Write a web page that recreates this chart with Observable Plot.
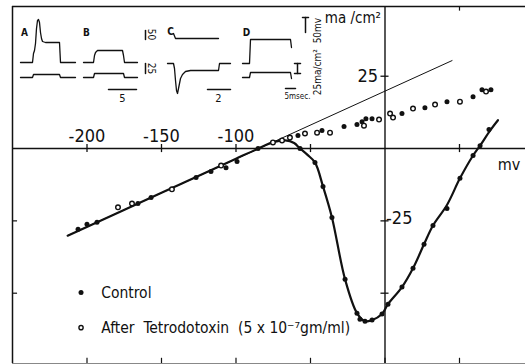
<!DOCTYPE html>
<html><head><meta charset="utf-8">
<script src="https://cdn.jsdelivr.net/npm/d3@7"></script>
<script src="https://cdn.jsdelivr.net/npm/@observablehq/plot@0.6"></script>
<style>
html,body{margin:0;padding:0;background:#fff;}
#wrap{position:relative;width:525px;height:364px;overflow:hidden;background:#fff;}
#wrap svg{position:absolute;left:0;top:0;background:transparent;}
</style></head><body><div id="wrap"></div>
<script>
// ---- data (mV, ma/cm^2) ----
const ctrlPeakV = [-206, -200, -193.3, -165.8, -157, -126.8, -116.8, -106.7, -99.3, -85.2, -57, -47, -41.6, -35.6, -26.8, -18.8, -16.8, -13.4, -8.7, -2, 2, 11.4, 18.8, 26.2, 32.2, 41.6, 50.3, 59.1, 63.8, 69.8];
const ctrlPeakI = [-27.9, -26.2, -25.5, -19, -16.9, -10, -7.9, -6.6, -4.5, 0, 0, -4.8, -13.1, -23.8, -45.2, -56.9, -59, -59.7, -59.3, -57.2, -53.8, -47.9, -41.4, -33.1, -26.6, -20.7, -10.3, -2.4, 1, 6.6];
const ctrlLateV = [-58.4, -42.3, -27.5, -18.8, -15.4, -12.8, -8.7, 11.4, 26.8, 41.6, 59.1, 65.1, 71.1];
const ctrlLateI = [4.5, 6.2, 7.6, 8.3, 9.3, 10.3, 10.3, 12.1, 14.1, 16.2, 17.9, 20.3, 20.3];
const ttxV = [-179.2, -169.8, -143, -110, -75.2, -69.1, -63.8, -53.7, -45.6, -36.9, -14.1, -4.0, 3.4, 5.4, 18.8, 33.6, 50.3, 67.8];
const ttxI = [-20.3, -19.0, -14.1, -5.9, 2.1, 2.8, 3.8, 5.2, 5.5, 5.5, 7.9, 10.0, 12.1, 10.7, 13.8, 15.2, 16.2, 19.7];
// fitted curve drawn through the control points
const curveV = [-213, -150, -100, -85, -75, -67, -61, -57, -52, -47, -41.6, -35.6, -26.8, -18.8, -13.4, -8.7, -2, 2, 11.4, 18.8, 26.2, 32.2, 41.6, 50.3, 59.1, 63.8, 70.5, 75.8];
const curveI = [-30.1, -15.3, -3.5, 0, 2.2, 2.8, 1.9, 0, -2.2, -4.8, -13.1, -23.8, -45.2, -56.9, -59.7, -59.3, -57.2, -53.8, -47.9, -41.4, -33.1, -26.6, -19.5, -10.3, -2.4, 1.0, 6.2, 9.8];
// leakage line extrapolation
const leakV = [-213, 45];
const leakI = [-30.1, 30.4];
// axis ticks
const xTickLabels = [-200, -150, -100];
const xTicks = [-200, -150, -100, -50, 50];
const yTicks = [25, -25, -50];
const yTickLabels = ["25", "-25"];

// ---- inset oscilloscope traces (inset units) ----
const traceAup = [[20,62],[32,62],[33,53],[34,50],[35,43],[36,28],[37,20],[38,19],[39,22],[40,32],[41,38],[42,41],[45,42],[59,42],[60,62],[75,62]];
const traceAlo = [[20,77],[32,77],[33,74],[59,74],[60,77],[75,77]];
const traceBup = [[83,62],[93,62],[94,55],[95,52],[97,50],[122,50],[123,55],[124,62],[137,62]];
const traceBlo = [[83,77],[93,77],[94,73],[123,73],[124,77],[137,77]];
const traceCup = [[173,33],[175,38],[218,38]];
const traceClo = [[167,63],[173,63],[174,68],[175,80],[176,90],[177,93],[178,88],[180,78],[182,74],[185,71],[190,70],[218,70],[219,63],[230,63]];
const traceDup = [[242,63],[249,63],[250,39],[290,39],[291,47]];
const traceDlo = [[242,77],[249,77],[250,72],[290,72],[291,78]];
const bars = [[[108,89],[136,89]], [[207,89],[230,89]], [[285,88],[295,88]], [[145,30],[145,39]], [[145,63],[145,73]], [[297,63],[297,73]], [[294,63],[300,63]], [[294,73],[300,73]], [[305,17],[305,32]], [[302,17],[308,17]]];
const insetLetters = [["A",24,32],["B",86,32],["C",170,31],["D",246,32]];
const insetNums = [["5",122,98],["2",218,98]];

const FONT = "'DejaVu Sans Condensed', 'DejaVu Sans', sans-serif";
const INK = "#111";

const P = (V, I) => V.map((v, i) => ({v, i: I[i]}));
const curve = P(curveV, curveI);
const leak = P(leakV, leakI);
const peak = P(ctrlPeakV, ctrlPeakI);
const late = P(ctrlLateV, ctrlLateI);
const ttx = P(ttxV, ttxI);

const XMIN = -250, XMAX = 94.3, YMIN = -74.3, YMAX = 49.1;

const main = Plot.plot({
  width: 525, height: 364,
  marginLeft: 12, marginRight: 0, marginTop: 6, marginBottom: 1,
  style: {fontFamily: FONT, fontStretch: "condensed", background: "transparent", color: INK},
  x: {domain: [XMIN, XMAX], axis: null},
  y: {domain: [YMIN, YMAX], axis: null},
  marks: [
    // frame
    Plot.ruleY([YMAX], {stroke: INK, strokeWidth: 1.5}),
    Plot.ruleX([XMIN], {stroke: INK, strokeWidth: 1.5}),
    Plot.ruleY([YMIN], {stroke: "#888", strokeWidth: 1}),
    // axes
    Plot.ruleY([0], {stroke: INK, strokeWidth: 1.6}),
    Plot.ruleX([0], {stroke: INK, strokeWidth: 1.4}),
    Plot.ruleX(xTicks, {x: d => d, y1: -1.4, y2: 1.4, stroke: INK, strokeWidth: 1.3}),
    Plot.ruleY(yTicks, {y: d => d, x1: -2.7, x2: 2.7, stroke: INK, strokeWidth: 1.3}),
    Plot.ruleX(xTicks.concat([0]), {x: d => d, y1: YMIN, y2: YMIN + 1.8, stroke: INK, strokeWidth: 1.2}),
    Plot.ruleY([-25, -50], {y: d => d, x1: XMIN, x2: XMIN + 3.4, stroke: INK, strokeWidth: 1.2}),
    Plot.ruleX([50], {x: d => d, y1: YMAX, y2: YMAX - 1.6, stroke: INK, strokeWidth: 1.2}),
    // tick labels
    Plot.text(xTickLabels, {x: d => d, y: 0, text: d => String(d), dy: -12.5, fontSize: 18, textAnchor: "middle", fill: INK}),
    Plot.text([yTickLabels[0]], {x: 0, y: 25, text: d => d, dx: -7, fontSize: 18, textAnchor: "end", fill: INK}),
    Plot.text([yTickLabels[1]], {x: 0, y: -25, text: d => d, dx: 1, dy: -3, fontSize: 18, textAnchor: "start", fill: INK}),
    Plot.text(["ma /cm\u00b2"], {x: 0, y: 45.2, text: d => d, dx: -4, fontSize: 15, textAnchor: "end", fill: INK}),
    Plot.text(["mv"], {x: 83.2, y: -5.7, text: d => d, fontSize: 16, textAnchor: "middle", fill: INK}),
    // lines
    Plot.line(leak, {x: "v", y: "i", stroke: INK, strokeWidth: 1}),
    Plot.line(curve, {x: "v", y: "i", stroke: INK, strokeWidth: 2.2, curve: "catmull-rom"}),
    // points
    Plot.dot(peak, {x: "v", y: "i", r: 2.5, fill: INK, stroke: "none"}),
    Plot.dot(late, {x: "v", y: "i", r: 2.5, fill: INK, stroke: "none"}),
    Plot.dot(ttx, {x: "v", y: "i", r: 2.3, fill: "white", stroke: INK, strokeWidth: 1.4}),
    // legend
    Plot.dot([{v: -204, i: -49.8}], {x: "v", y: "i", r: 2.5, fill: INK, stroke: "none"}),
    Plot.dot([{v: -204, i: -61.9}], {x: "v", y: "i", r: 2.1, fill: "white", stroke: INK, strokeWidth: 1.4}),
    Plot.text(["Control"], {x: -190.5, y: -49.8, text: d => d, fontSize: 15.5, textAnchor: "start", fill: INK}),
    Plot.text(["After\u00a0\u00a0Tetrodotoxin\u00a0\u00a0(5\u00a0x\u00a010\u207b\u2077gm/ml)"], {x: -190.5, y: -61.9, text: d => d, fontSize: 15.5, textAnchor: "start", fill: INK})
  ]
});

const seg = (arr, k) => arr.map(([x, y]) => ({x, y, k}));
const traces = [
  ...seg(traceAup, "Aup"), ...seg(traceAlo, "Alo"), ...seg(traceBup, "Bup"), ...seg(traceBlo, "Blo"),
  ...seg(traceCup, "Cup"), ...seg(traceClo, "Clo"), ...seg(traceDup, "Dup"), ...seg(traceDlo, "Dlo")
];
const barPts = bars.flatMap((b, j) => seg(b, "bar" + j));

const inset = Plot.plot({
  width: 330, height: 105,
  margin: 0,
  style: {fontFamily: FONT, fontStretch: "condensed", background: "transparent", color: INK},
  x: {domain: [0, 330], range: [0, 330], axis: null},
  y: {domain: [0, 105], range: [0, 105], axis: null},
  marks: [
    Plot.line(traces, {x: "x", y: "y", z: "k", stroke: INK, strokeWidth: 1.3}),
    Plot.line(barPts, {x: "x", y: "y", z: "k", stroke: INK, strokeWidth: 1.5}),
    Plot.text(insetLetters, {x: d => d[1], y: d => d[2], text: d => d[0], fontSize: 10, fontWeight: "bold", fill: INK}),
    Plot.text(insetNums, {x: d => d[1], y: d => d[2], text: d => d[0], fontSize: 11, fill: INK}),
    Plot.text(["50"], {x: 151, y: 34, text: d => d, fontSize: 10, rotate: 90, fill: INK}),
    Plot.text(["25"], {x: 151, y: 68, text: d => d, fontSize: 10, rotate: 90, fill: INK}),
    Plot.text(["25ma/cm\u00b2\u00a0\u00a050mv"], {x: 317, y: 56, text: d => d, fontSize: 10, rotate: -90, fill: INK}),
    Plot.text(["5msec."], {x: 297, y: 96, text: d => d, fontSize: 8, fill: INK})
  ]
});

const wrap = document.getElementById("wrap");
wrap.appendChild(main);
wrap.appendChild(inset);
</script>
</body></html>
